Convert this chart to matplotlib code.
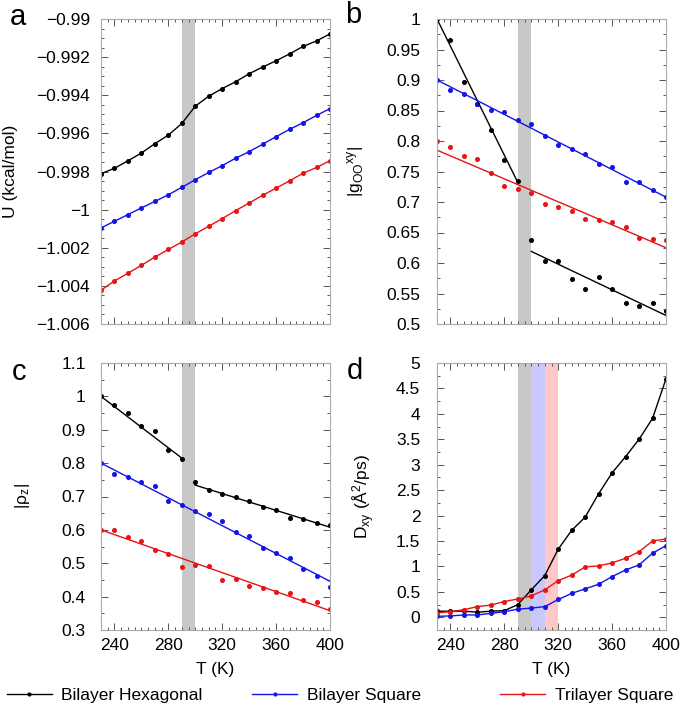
import matplotlib
matplotlib.use("Agg")
import matplotlib.pyplot as plt
from matplotlib.ticker import MultipleLocator, FuncFormatter
from matplotlib.lines import Line2D

plt.rcParams['font.family'] = ['Liberation Sans', 'DejaVu Sans']
plt.rcParams['font.size'] = 12
plt.rcParams['mathtext.fontset'] = 'custom'
plt.rcParams['mathtext.rm'] = 'Liberation Sans'
plt.rcParams['mathtext.it'] = 'Liberation Sans:italic'
plt.rcParams['mathtext.default'] = 'regular'

# ---------------- data ----------------
T = [230, 240, 250, 260, 270, 280, 290, 300, 310, 320, 330, 340, 350, 360, 370, 380, 390, 400]

a_black = [-0.99812, -0.99783, -0.99744, -0.99703, -0.99654, -0.99609, -0.99548, -0.99457, -0.99405,
           -0.99365, -0.99329, -0.99287, -0.99252, -0.99219, -0.99183, -0.99144, -0.99115, -0.99078]
a_blue = [-1.00096, -1.00061, -1.00026, -0.99991, -0.99957, -0.99922, -0.99883, -0.99843, -0.99805,
          -0.99769, -0.99730, -0.99696, -0.99657, -0.99617, -0.99579, -0.99544, -0.99506, -0.99470]
a_red = [-1.00423, -1.00374, -1.00334, -1.00292, -1.00249, -1.00209, -1.00170, -1.00127, -1.00087,
         -1.00047, -1.00005, -0.99965, -0.99925, -0.99887, -0.99849, -0.99809, -0.99779, -0.99743]

b_black = [1.0, 0.965, 0.897, 0.861, 0.8175, 0.769, 0.734, 0.637, 0.604, 0.603, 0.574, 0.557,
           0.577, 0.557, 0.534, 0.5295, 0.534, 0.522]
b_blue = [0.9, 0.8836, 0.8775, 0.860, 0.851, 0.848, 0.835, 0.828, 0.809, 0.793, 0.787, 0.778,
          0.762, 0.758, 0.732, 0.733, 0.720, 0.708]
b_red = [0.80, 0.7897, 0.775, 0.771, 0.748, 0.726, 0.722, 0.7148, 0.696, 0.692, 0.685, 0.672,
         0.670, 0.667, 0.6585, 0.6415, 0.639, 0.638]
# fitted lines (T endpoints, values)
b_fit_black1_T, b_fit_black1 = [230, 290], [1.0, 0.732]
b_fit_black2_T, b_fit_black2 = [300, 400], [0.619, 0.514]
b_fit_blue_T, b_fit_blue = [230, 400], [0.9, 0.708]
b_fit_red_T, b_fit_red = [230, 400], [0.785, 0.625]

c_black = [1.0, 0.975, 0.95, 0.912, 0.895, 0.838, 0.813, 0.743, 0.718, 0.708, 0.698, 0.688,
           0.669, 0.661, 0.636, 0.634, 0.620, 0.616]
c_blue = [0.80, 0.767, 0.759, 0.742, 0.731, 0.688, 0.674, 0.658, 0.647, 0.627, 0.595, 0.583,
          0.547, 0.530, 0.516, 0.483, 0.461, 0.429]
c_red = [0.60, 0.60, 0.578, 0.568, 0.54, 0.527, 0.488, 0.495, 0.491, 0.451, 0.454, 0.432,
         0.425, 0.413, 0.410, 0.390, 0.383, 0.364]
c_fit_black1_T, c_fit_black1 = [230, 290], [1.0, 0.815]
c_fit_black2_T, c_fit_black2 = [300, 400], [0.734, 0.608]
c_fit_blue_T, c_fit_blue = [230, 400], [0.80, 0.446]
c_fit_red_T, c_fit_red = [230, 400], [0.60, 0.358]

d_black = [0.12, 0.12, 0.12, 0.10, 0.12, 0.13, 0.25, 0.54, 0.82, 1.34, 1.71, 1.97, 2.43, 2.84,
           3.16, 3.50, 3.91, 4.69]
d_red = [0.085, 0.11, 0.15, 0.21, 0.24, 0.31, 0.36, 0.42, 0.54, 0.72, 0.83, 0.99, 1.01, 1.07,
         1.16, 1.29, 1.50, 1.54]
d_blue = [0.02, 0.026, 0.046, 0.046, 0.078, 0.11, 0.16, 0.18, 0.21, 0.35, 0.47, 0.56, 0.65, 0.80,
          0.93, 1.03, 1.26, 1.41]

band_gray = [290, 300]
band_blue = [300, 310]
band_red = [310, 320]

labels = ['Bilayer Hexagonal', 'Bilayer Square', 'Trilayer Square']

# ---------------- style ----------------
CK, CB, CR = '#000000', '#1414e6', '#e61414'
GRAY_BAND, BLUE_BAND, RED_BAND = '#c8c8c8', '#c8c8ff', '#ffc8c8'
MS = 2.6
LW = 1.0

fig = plt.figure(figsize=(6.85, 7.11), dpi=100)

L1, L2, W = 101/685, 437/685, 229/685
top_b, top_h = 1 - 324/711, (324 - 19)/711
bot_b, bot_h = 1 - 630/711, (630 - 363)/711

ax_a = fig.add_axes([L1, top_b, W, top_h])
ax_b = fig.add_axes([L2, top_b, W, top_h])
ax_c = fig.add_axes([L1, bot_b, W, bot_h])
ax_d = fig.add_axes([L2, bot_b, W, bot_h])


def minus_fmt(v, pos):
    s = '%g' % round(v, 6)
    return s.replace('-', '\u2212')


def style(ax, ymaj, ymin, xlabels, ypad):
    ax.set_xlim(230, 400)
    ax.xaxis.set_major_locator(MultipleLocator(40))
    ax.xaxis.set_minor_locator(MultipleLocator(5))
    ax.yaxis.set_major_locator(MultipleLocator(ymaj))
    ax.yaxis.set_minor_locator(MultipleLocator(ymin))
    ax.tick_params(which='both', direction='in', top=True, right=True, color='#555555',
                   width=0.7, labelsize=12.5)
    ax.tick_params(axis='y', which='both', pad=ypad)
    ax.tick_params(axis='x', which='both', pad=6)
    ax.tick_params(which='major', length=5)
    ax.tick_params(which='minor', length=2.5)
    for s in ax.spines.values():
        s.set_color('#aaaaaa')
        s.set_linewidth(0.8)
    ax.yaxis.set_major_formatter(FuncFormatter(minus_fmt))
    if not xlabels:
        ax.tick_params(axis='x', labelbottom=False)
    else:
        ax.set_xlabel('T (K)', fontsize=12.5, labelpad=6)


# ---- a ----
ax = ax_a
ax.axvspan(*band_gray, color=GRAY_BAND, lw=0, zorder=0)
ax.plot(T, a_black, '-o', color=CK, ms=MS, lw=LW)
ax.plot(T, a_blue, '-o', color=CB, ms=MS, lw=LW)
ax.plot(T, a_red, '-o', color=CR, ms=MS, lw=LW)
ax.set_ylim(-1.006, -0.99)
style(ax, 0.002, 0.0005, False, 8)
ax.set_ylabel('U (kcal/mol)', fontsize=12.5)
ax.yaxis.set_label_coords(-0.362, 0.5)

# ---- b ----
ax = ax_b
ax.axvspan(*band_gray, color=GRAY_BAND, lw=0, zorder=0)
ax.plot(T, b_black, 'o', color=CK, ms=MS)
ax.plot(T, b_blue, 'o', color=CB, ms=MS)
ax.plot(T, b_red, 'o', color=CR, ms=MS)
ax.plot(b_fit_black1_T, b_fit_black1, '-', color=CK, lw=LW)
ax.plot(b_fit_black2_T, b_fit_black2, '-', color=CK, lw=LW)
ax.plot(b_fit_blue_T, b_fit_blue, '-', color=CB, lw=LW)
ax.plot(b_fit_red_T, b_fit_red, '-', color=CR, lw=LW)
ax.set_ylim(0.5, 1.0)
style(ax, 0.05, 0.025, False, 12)
ax.set_ylabel(r'|g$_{OO}$$^{xy}$|', fontsize=12.5)
ax.yaxis.set_label_coords(-0.31, 0.5)

# ---- c ----
ax = ax_c
ax.axvspan(*band_gray, color=GRAY_BAND, lw=0, zorder=0)
ax.plot(T, c_black, 'o', color=CK, ms=MS)
ax.plot(T, c_blue, 'o', color=CB, ms=MS)
ax.plot(T, c_red, 'o', color=CR, ms=MS)
ax.plot(c_fit_black1_T, c_fit_black1, '-', color=CK, lw=LW)
ax.plot(c_fit_black2_T, c_fit_black2, '-', color=CK, lw=LW)
ax.plot(c_fit_blue_T, c_fit_blue, '-', color=CB, lw=LW)
ax.plot(c_fit_red_T, c_fit_red, '-', color=CR, lw=LW)
ax.set_ylim(0.3, 1.1)
style(ax, 0.1, 0.05, True, 11)
ax.set_ylabel('|ρ$_z$|', fontsize=12.5)
ax.yaxis.set_label_coords(-0.30, 0.5)

# ---- d ----
ax = ax_d
ax.axvspan(*band_gray, color=GRAY_BAND, lw=0, zorder=0)
ax.axvspan(*band_blue, color=BLUE_BAND, lw=0, zorder=0)
ax.axvspan(*band_red, color=RED_BAND, lw=0, zorder=0)
ax.plot(T, d_black, '-o', color=CK, ms=MS, lw=LW)
ax.plot(T, d_blue, '-o', color=CB, ms=MS, lw=LW)
ax.plot(T, d_red, '-o', color=CR, ms=MS, lw=LW)
ax.set_ylim(-0.25, 5)
style(ax, 0.5, 0.25, True, 12)
ax.set_ylabel('D$_{xy}$ (Å$^2$/ps)', fontsize=12.5)
ax.yaxis.set_label_coords(-0.26, 0.5)

# panel letters
for lab, x, y in [('a', 18, 17), ('b', 353, 15), ('c', 19, 372), ('d', 355, 371)]:
    fig.text(x/685, 1 - y/711, lab, fontsize=21, ha='center', va='center')

# legend: one entry per column position
for lab, col, x0 in zip(labels, (CK, CB, CR), (6.5, 252, 500)):
    h = Line2D([], [], color=col, lw=LW, marker='o', ms=2)
    fig.legend([h], [lab], loc='center left', bbox_to_anchor=(x0/685, 1 - 695/711),
               frameon=False, fontsize=12.5, handlelength=2.6, handletextpad=0.55,
               borderaxespad=0.0, borderpad=0.0, numpoints=1)

fig.savefig('out.png', dpi=100)
